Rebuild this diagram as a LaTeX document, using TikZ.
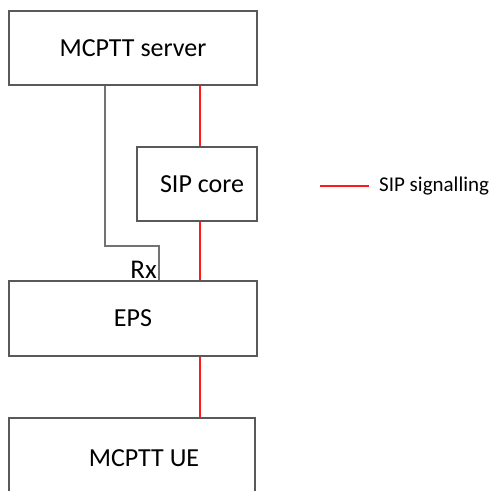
\documentclass[tikz,border=0pt]{standalone}
\usepackage{fontspec}
\setmainfont{Carlito}
\usetikzlibrary{positioning}

\tikzset{
  block/.style={draw=black!65, line width=1.2pt, minimum height=74pt, inner sep=0pt,
    font=\fontsize{26}{30}\selectfont},
  sig/.style={draw=red!90, line width=1.1pt},
  rxline/.style={draw=black!55, line width=1.1pt}
}

\begin{document}
\begin{tikzpicture}[x=1pt,y=-1pt]
    \useasboundingbox (0,0) rectangle (494,490);

    % Blocks
    \node[block, minimum width=248pt] (server) at (133,48) {MCPTT server};
    \node[block, minimum width=120pt] (sip) at (197,184) {\hspace{10pt}SIP core};
    \node[block, minimum width=248pt, minimum height=75pt] (eps) at (133,318.5) {EPS};
    \node[block, minimum width=246pt, minimum height=80pt] (ue) at (132,458) {\hspace{24pt}MCPTT UE};

    % SIP signalling
    \coordinate (sigx) at (200,0);
    \draw[sig] (server.south -| sigx) -- (sip.north -| sigx);
    \draw[sig] (sip.south -| sigx) -- (eps.north -| sigx);
    \draw[sig] (eps.south -| sigx) -- (ue.north -| sigx);

    % Rx
    \coordinate (rxa) at (105,0);
    \coordinate (rxb) at (159,246);
    \draw[rxline] (server.south -| rxa) |- (rxb) -- (eps.north -| rxb);
    \node[anchor=south east, inner sep=0pt, font=\fontsize{27}{30}\selectfont]
        (rx) at ([xshift=-2pt,yshift=2pt]eps.north -| rxb) {Rx};

    % Legend
    \coordinate (leg) at (320,186);
    \coordinate (legend end) at (369,186);
    \draw[sig] (leg) -- (legend end);
    \node[anchor=west, inner sep=0pt, font=\fontsize{21}{25}\selectfont]
        (legtext) at ([xshift=10pt]legend end) {SIP signalling};
\end{tikzpicture}
\end{document}
